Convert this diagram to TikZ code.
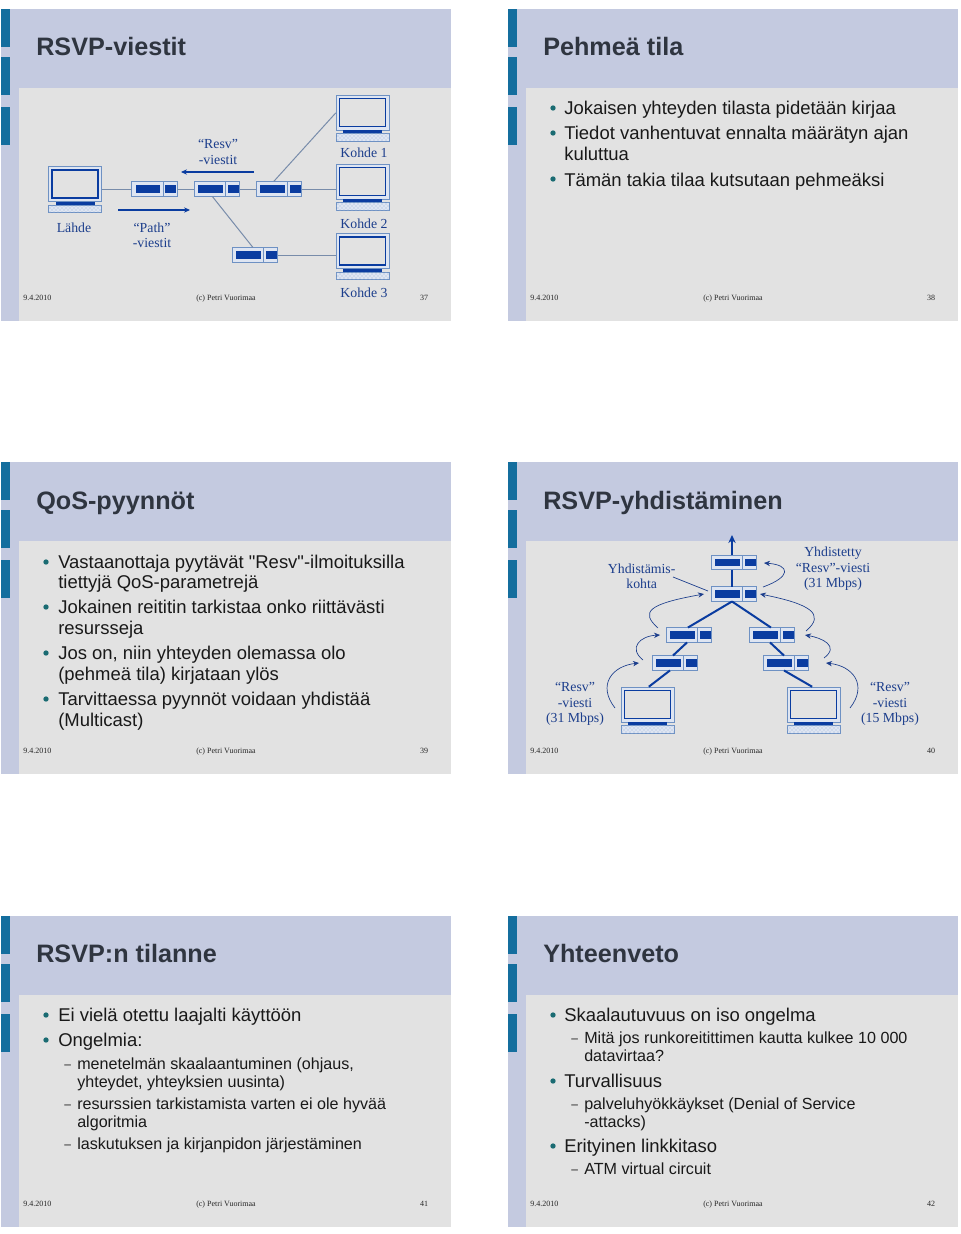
\documentclass[tikz,border=0pt]{standalone}
\usepackage{fontspec}
\setmainfont{Liberation Serif}
\setsansfont{Liberation Sans}
\newfontfamily\plainsans{Liberation Sans}
\usetikzlibrary{arrows.meta,patterns}
\definecolor{header}{RGB}{196,202,224}
\definecolor{sheet}{RGB}{226,226,226}
\definecolor{tab}{RGB}{20,110,158}
\definecolor{navy}{RGB}{10,60,160}
\definecolor{wire}{RGB}{120,140,170}
\definecolor{frame}{RGB}{110,145,195}
\definecolor{pale}{RGB}{222,229,242}
\definecolor{label}{RGB}{28,62,140}
\definecolor{ink}{RGB}{47,53,64}
\definecolor{dotgreen}{RGB}{26,107,114}
\tikzset{
  >={Stealth[length=4.5pt,width=4pt]},
  title/.style={anchor=base west,inner sep=0,font=\sffamily\bfseries\fontsize{18.9}{22}\selectfont,text=ink},
  foot/.style={anchor=base,inner sep=0,font=\fontsize{6}{7}\selectfont,text=black!85},
  main/.style={anchor=base west,inner sep=0,font=\sffamily\fontsize{13.85}{16}\selectfont,text=black!90},
  sub/.style={anchor=base west,inner sep=0,font=\sffamily\fontsize{12.08}{14}\selectfont,text=black!90},
  dashmark/.style={anchor=base west,inner sep=0,yshift=.6pt,font=\sffamily\fontsize{9}{10}\selectfont,text=black!90},
  dot/.style={circle,fill=dotgreen,inner sep=0,minimum size=4pt},
  tag/.style={inner sep=0,align=center,text=label,font=\fontsize{10.35}{11.5}\selectfont},
  wirethin/.style={draw=wire,line width=.75pt},
  wirethick/.style={draw=navy,line width=1.5pt},
  message/.style={->,draw=navy,line width=1pt},
  note/.style={draw=label,line width=.5pt},
  % pictograms
  pics/computer/.style={code={
    \node[inner sep=0,minimum width=39.75pt,minimum height=34.5pt] (-box) {};
    \fill[pale,draw=frame,line width=.5pt] (-26.5,-23) rectangle (26.5,12);
    \fill[sheet,draw=navy,line width=1.1pt] (-23,-19.5) rectangle (23,8.5);
    \fill[navy] (-19.5,12) rectangle (19.5,15.5);
    \draw[frame,line width=.5pt,fill=pale] (-26.5,15.5) rectangle (26.5,23);
    \fill[pattern=crosshatch dots,pattern color=frame!70] (-26.5,15.5) rectangle (26.5,23);
  }},
  pics/router/.style={code={
    \node[inner sep=0,minimum width=34pt,minimum height=10.8pt] (-box) {};
    \fill[pale,draw=frame,line width=.5pt] (-22.7,-7.2) rectangle (22.7,7.2);
    \draw[frame,line width=.5pt] (8.5,-7.2) -- (8.5,7.2);
    \fill[navy] (-19,-3.8) rectangle (5.5,3.8);
    \fill[navy] (10.5,-3.8) rectangle (21.5,3.8);
  }},
}
\newcommand{\comma}{,}
\newcommand{\dq}{{\plainsans"}}
\begin{document}
\begin{tikzpicture}[x=0.75pt,y=-0.75pt]
  \useasboundingbox (0,0) rectangle (960,1234);
  \foreach \sx/\sy/\pg/\ttl in {0/0/37/RSVP-viestit,507/0/38/Pehmeä tila,0/453/39/QoS-pyynnöt,507/453/40/RSVP-yhdistäminen,0/906.5/41/RSVP:n tilanne,507/906.5/42/Yhteenveto}{
    \begin{scope}[shift={(\sx,\sy)}]
      \fill[header] (0.5,9.3) rectangle (451,320.7);
      \fill[sheet] (19,88) rectangle (451,320.7);
      \foreach \ty in {9.3,57,107} \fill[tab] (0.5,\ty) rectangle (9.5,\ty+38);
      \node[title] (title\pg) at (36,56) {\ttl};
      \node[foot,anchor=base west] (date\pg) at (23,300) {9.4.2010};
      \node[foot] (copy\pg) at (226,300) {(c) Petri Vuorimaa};
      \node[foot] (page\pg) at (424,300) {\pg};
    \end{scope}
  }
  % slide 37
  \pic (src) at (75,189.5) {computer};
  \pic (dst1) at (362.5,118) {computer};
  \pic (dst2) at (362.5,187) {computer};
  \pic (dst3) at (362.5,256.5) {computer};
  \pic (r1) at (154.5,189) {router};
  \pic (r2) at (217,189) {router};
  \pic (r3) at (279,189) {router};
  \pic (r4) at (255,255) {router};
  \draw[wirethin] (src-box.east |- r1-box) -- (r1-box) (r1-box) -- (r2-box) (r2-box) -- (r3-box) (r3-box) -- (r3-box -| dst2-box.west);
  \draw[wirethin] ([xshift=-4pt]r3-box.north) -- ([yshift=3.8pt]dst1-box.west);
  \draw[wirethin] ([xshift=-3.5pt]r2-box.south) -- ([xshift=-1.5pt]r4-box.north);
  \draw[wirethin] (r4-box) -- (r4-box -| dst3-box.west);
  \coordinate (resvA) at (254,172);
  \coordinate (resvB) at (181,172);
  \coordinate (pathA) at (118,210);
  \coordinate (pathB) at (190,210);
  \draw[message] (resvA) -- (resvB);
  \draw[message] (pathA) -- (pathB);
  \node[tag] (resv) at (218,152) {“Resv”\\-viestit};
  \node[tag] (path) at (152,235.5) {“Path”\\-viestit};
  \node[tag] (lahde) at (74,227.5) {Lähde};
  \node[tag] (k1) at (364,153) {Kohde 1};
  \node[tag] (k2) at (364,224) {Kohde 2};
  \node[tag] (k3) at (364,293) {Kohde 3};
  % slide 40
  \pic (a) at (734,562.5) {router};
  \pic (b) at (734,594) {router};
  \pic (c) at (689,635) {router};
  \pic (d) at (772,635) {router};
  \pic (e) at (675,663) {router};
  \pic (f) at (786,663) {router};
  \pic (hl) at (647.5,710) {computer};
  \pic (hr) at (813.5,710) {computer};
  \coordinate (top) at (732,535);
  \draw[wirethick,-{Stealth[length=6pt,width=5.5pt]}] ([xshift=-1.5pt]a-box.north) -- (top);
  \draw[wirethick] ([xshift=-1.5pt]a-box.south) -- ([xshift=-1.5pt]b-box.north);
  \draw[wirethick] ([xshift=-1.5pt]b-box.south) -- ([xshift=-.8pt]c-box.north);
  \draw[wirethick] ([xshift=-1.5pt]b-box.south) -- ([xshift=-.8pt]d-box.north);
  \draw[wirethick] ([xshift=-1.5pt]c-box.south) -- ([xshift=-1.5pt]e-box.north);
  \draw[wirethick] ([xshift=-1.5pt]d-box.south) -- ([xshift=-1.5pt]f-box.north);
  \draw[wirethick] ([xshift=-3.8pt]e-box.south) -- ([xshift=1pt]hl-box.north);
  \draw[wirethick] ([xshift=-1.5pt]f-box.south) -- ([xshift=-1pt]hr-box.north);
  \coordinate (mergeA) at (673,577);
  \coordinate (mergeB) at (708,591);
  \draw[note] (mergeA) -- (mergeB);
  \coordinate (p1) at (763,587);
  \coordinate (q1) at (764,563);
  \coordinate (p2) at (658,628);
  \coordinate (q2) at (704,594);
  \coordinate (p3) at (806,631);
  \coordinate (q3) at (760,594);
  \coordinate (p4) at (643,660);
  \coordinate (q4) at (660,635);
  \coordinate (p5) at (824,658);
  \coordinate (q5) at (805,635);
  \coordinate (p6) at (615,708);
  \coordinate (q6) at (639,663);
  \coordinate (p7) at (850,708);
  \coordinate (q7) at (826,663);
  \draw[note,->] (p1) .. controls (791,577) and (791,565) .. (q1);
  \draw[note,->] (p2) .. controls (640,612) and (648,604) .. (q2);
  \draw[note,->] (p3) .. controls (826,614) and (810,604) .. (q3);
  \draw[note,->] (p4) .. controls (628,648) and (640,636) .. (q4);
  \draw[note,->] (p5) .. controls (840,646) and (822,638) .. (q5);
  \draw[note,->] (p6) .. controls (597,685) and (612,666) .. (q6);
  \draw[note,->] (p7) .. controls (868,685) and (853,666) .. (q7);
  \node[tag] (merge) at (641.7,576.5) {Yhdistämis-\\kohta};
  \node[tag] (merged) at (833,569) {Yhdistetty\\“Resv”-viesti\\(31 Mbps)};
  \node[tag] (left) at (575,704) {“Resv”\\-viesti\\(31 Mbps)};
  \node[tag] (right) at (890,704) {“Resv”\\-viesti\\(15 Mbps)};
  % text slides
  \foreach \tx/\ty/\k/\t [count=\i] in {
    564/115/main/Jokaisen yhteyden tilasta pidetään kirjaa,
    564/140/main/Tiedot vanhentuvat ennalta määrätyn ajan,
    564/161/main/kuluttua,
    564/186/main/Tämän takia tilaa kutsutaan pehmeäksi,
    58/568/main/Vastaanottaja pyytävät \dq Resv\dq -ilmoituksilla,
    58/588/main/tiettyjä QoS-parametrejä,
    58/613/main/Jokainen reititin tarkistaa onko riittävästi,
    58/634/main/resursseja,
    58/659/main/Jos on\comma{} niin yhteyden olemassa olo,
    58/680/main/(pehmeä tila) kirjataan ylös,
    58/705/main/Tarvittaessa pyynnöt voidaan yhdistää,
    58/726/main/(Multicast),
    58/1021/main/Ei vielä otettu laajalti käyttöön,
    58/1046/main/Ongelmia:,
    77/1069.5/sub/menetelmän skaalaantuminen (ohjaus\comma,
    77/1087.5/sub/yhteydet\comma{} yhteyksien uusinta),
    77/1109/sub/resurssien tarkistamista varten ei ole hyvää,
    77/1127/sub/algoritmia,
    77/1149/sub/laskutuksen ja kirjanpidon järjestäminen,
    564/1021/main/Skaalautuvuus on iso ongelma,
    584/1043.5/sub/Mitä jos runkoreitittimen kautta kulkee 10 000,
    584/1061.5/sub/datavirtaa?,
    564/1087/main/Turvallisuus,
    584/1109.5/sub/palveluhyökkäykset (Denial of Service,
    584/1127.5/sub/-attacks),
    564/1152/main/Erityinen linkkitaso,
    584/1174/sub/ATM virtual circuit}{
    \node[\k] (line\i) at (\tx,\ty) {\t};
  }
  \foreach \tx/\ty [count=\i] in {553/108,553/133,553/179,46/562,46/607,46/653,46/699,46/1015,46/1040,553/1015,553/1081,553/1146}{
    \node[dot] (dot\i) at (\tx,\ty) {};
  }
  \foreach \tx/\ty [count=\i] in {64/1069.5,64/1109,64/1149,571/1043.5,571/1109.5,571/1174}{
    \node[dashmark] (dash\i) at (\tx,\ty) {–};
  }
\end{tikzpicture}
\end{document}
